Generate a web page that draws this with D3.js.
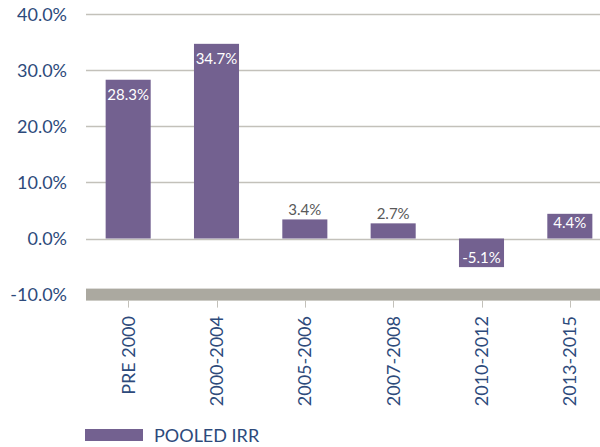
<!DOCTYPE html>
<html>
<head>
<meta charset="utf-8">
<script src="https://cdn.jsdelivr.net/npm/d3@7"></script>
<style>
  html, body { margin: 0; padding: 0; background: #fff; }
  svg { display: block; font-family: Lato, "Open Sans", sans-serif; }
</style>
</head>
<body>
<svg id="chart" width="600" height="447"></svg>
<script>
const categories = ["PRE 2000", "2000-2004", "2005-2006", "2007-2008", "2010-2012", "2013-2015"];
const pooledIRR = [28.3, 34.7, 3.4, 2.7, -5.1, 4.4];
const yTicks = [-10, 0, 10, 20, 30, 40];
const seriesName = "POOLED IRR";

const svg = d3.select("#chart");
const barColor = "#736190";
const gridColor = "#C3C1BA";
const axisBand = "#ABA9A0";
const labelBlue = "#2D4A7B";

const x = d3.scaleBand().domain(categories).range([84, 614]).paddingInner(0.49).paddingOuter(0.245);
const y = d3.scaleLinear().domain([-10, 40]).range([294.6, 14.1]);

const gridLeft = 86, gridRight = 600;

// gridlines
svg.append("g").selectAll("line").data(yTicks.filter(t => t > -10)).join("line")
  .attr("x1", gridLeft).attr("x2", gridRight)
  .attr("y1", d => Math.round(y(d)) + 0.5).attr("y2", d => Math.round(y(d)) + 0.5)
  .attr("stroke", gridColor).attr("stroke-width", 1.3);

// y labels
svg.append("g").selectAll("text").data(yTicks).join("text")
  .attr("x", 67).attr("y", d => y(d)).attr("dy", "0.36em")
  .attr("text-anchor", "end").attr("fill", labelBlue)
  .style("font-size", "18px")
  .text(d => d.toFixed(1) + "%");

// bars
svg.append("g").selectAll("rect").data(pooledIRR).join("rect")
  .attr("x", (d, i) => x(categories[i]))
  .attr("width", x.bandwidth())
  .attr("y", d => y(Math.max(0, d)))
  .attr("height", d => Math.abs(y(d) - y(0)))
  .attr("fill", barColor);

// thick bottom axis band at -10%
svg.append("rect")
  .attr("x", gridLeft).attr("width", gridRight - gridLeft)
  .attr("y", y(-10) - 6).attr("height", 12)
  .attr("fill", axisBand);

// x ticks
svg.append("g").selectAll("line").data(categories).join("line")
  .attr("x1", d => Math.round(x(d) + x.bandwidth() / 2) + 0.5)
  .attr("x2", d => Math.round(x(d) + x.bandwidth() / 2) + 0.5)
  .attr("y1", y(-10) + 6).attr("y2", y(-10) + 13)
  .attr("stroke", gridColor).attr("stroke-width", 1);

// x labels (rotated)
svg.append("g").selectAll("text").data(categories).join("text")
  .attr("transform", d => `translate(${x(d) + x.bandwidth() / 2 + 6.5},316) rotate(-90)`)
  .attr("text-anchor", "end").attr("fill", labelBlue)
  .style("font-size", "18px")
  .text(d => d);

// value labels
svg.append("g").selectAll("text").data(pooledIRR).join("text")
  .attr("x", (d, i) => x(categories[i]) + x.bandwidth() / 2)
  .attr("y", d => {
    const h = Math.abs(y(d) - y(0));
    if (d < 0) return y(d) - 4.5;
    if (h < 22) return y(d) - 4.5;
    return y(d) + Math.min(20, h / 2 + 2);
  })
  .attr("text-anchor", "middle")
  .attr("fill", d => (d > 0 && Math.abs(y(d) - y(0)) < 22) ? "#595959" : "#ffffff")
  .style("font-size", "15px")
  .text(d => d.toFixed(1) + "%");

// legend
svg.append("rect").attr("x", 85).attr("y", 429).attr("width", 58).attr("height", 12).attr("fill", barColor);
svg.append("text").attr("x", 154).attr("y", 441.5).attr("fill", labelBlue)
  .style("font-size", "18px").text(seriesName);
</script>
</body>
</html>
